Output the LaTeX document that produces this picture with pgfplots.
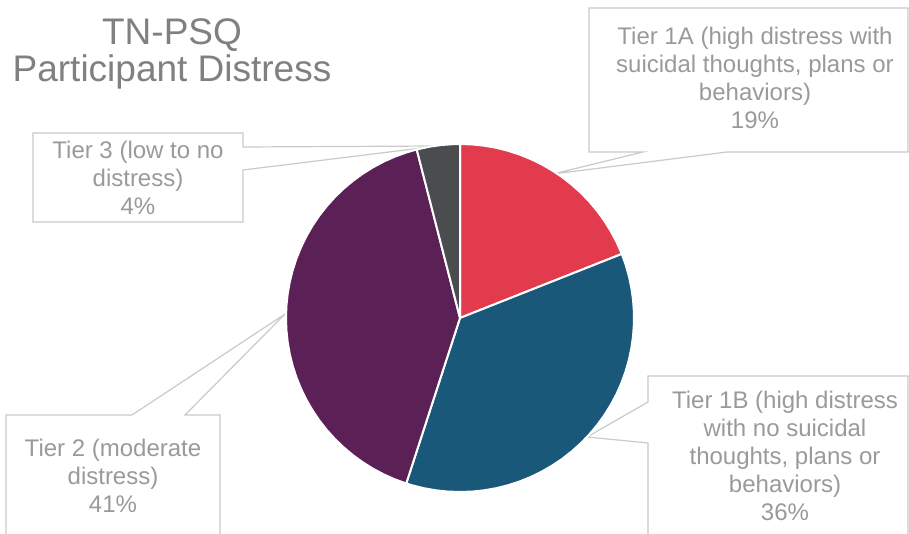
\documentclass[border=0pt]{standalone}
\usepackage{fontspec}
\setmainfont{Liberation Sans}
\usepackage{pgfplots}
\pgfplotsset{compat=1.18}
\usepgfplotslibrary{polar}
\definecolor{tred}{HTML}{E23B4E}
\definecolor{tblue}{HTML}{1A5879}
\definecolor{tpurple}{HTML}{5B2157}
\definecolor{tgray}{HTML}{4B4C50}
\definecolor{labgray}{HTML}{9A9A9A}
\definecolor{titlegray}{HTML}{808080}
\definecolor{boxgray}{HTML}{CACACA}
\tikzset{
  lab/.style={text=labgray, font=\fontsize{24bp}{28bp}\selectfont, inner sep=0pt, anchor=base},
  ttl/.style={text=titlegray, font=\fontsize{37bp}{37bp}\selectfont, inner sep=0pt, anchor=base},
  callout/.style={fill=white, draw=boxgray, line width=1.2bp, line join=miter}}
\begin{document}
\begin{tikzpicture}
\useasboundingbox (0,0) rectangle (909bp,534bp);
\clip (0,0) rectangle (909bp,534bp);
\begin{axis}[at={(0,0)}, anchor=south west, x=1bp, y=1bp,
  xmin=-460, xmax=449, ymin=-216, ymax=318, hide axis, clip=false]
% callouts
\draw[callout] (129,310) -- (448,310) -- (448,166) -- (267,166) -- (93,144) -- (183,166) -- (129,166) -- cycle;
\draw[callout] (-427,185) -- (-217,185) -- (-217,171) -- (-22,172) -- (-217,148) -- (-217,96) -- (-427,96) -- cycle;
\draw[callout] (-454,-97) -- (-328,-97) -- (-175,4) -- (-275,-97) -- (-240,-97) -- (-240,-225) -- (-454,-225) -- cycle;
\draw[callout] (188,-58) -- (448,-58) -- (448,-225) -- (188,-225) -- (188,-125) -- (127,-119) -- (188,-84) -- cycle;
% pie slices (angle, radius)
\addplot[data cs=polar, fill=tred, draw=white, line width=2bp, line join=round] coordinates {
(0,0) (90,174) (86,174) (82,174) (78,174) (74,174) (70,174) (66,174) (62,174) (58,174) (54,174) (50,174) (46,174) (42,174) (38,174) (34,174) (30,174) (26,174) (22,174) (21.6,174) (0,0)};
\addplot[data cs=polar, fill=tblue, draw=white, line width=2bp, line join=round] coordinates {
(0,0) (21.6,174) (18,174) (14,174) (10,174) (6,174) (2,174) (-2,174) (-6,174) (-10,174) (-14,174) (-18,174) (-22,174) (-26,174) (-30,174) (-34,174) (-38,174) (-42,174) (-46,174) (-50,174) (-54,174) (-58,174) (-62,174) (-66,174) (-70,174) (-74,174) (-78,174) (-82,174) (-86,174) (-90,174) (-94,174) (-98,174) (-102,174) (-106,174) (-108,174) (0,0)};
\addplot[data cs=polar, fill=tpurple, draw=white, line width=2bp, line join=round] coordinates {
(0,0) (252,174) (248,174) (244,174) (240,174) (236,174) (232,174) (228,174) (224,174) (220,174) (216,174) (212,174) (208,174) (204,174) (200,174) (196,174) (192,174) (188,174) (184,174) (180,174) (176,174) (172,174) (168,174) (164,174) (160,174) (156,174) (152,174) (148,174) (144,174) (140,174) (136,174) (132,174) (128,174) (124,174) (120,174) (116,174) (112,174) (108,174) (104.4,174) (0,0)};
\addplot[data cs=polar, fill=tgray, draw=white, line width=2bp, line join=round] coordinates {
(0,0) (104.4,174) (100,174) (96,174) (92,174) (90,174) (0,0)};
% title
\node[ttl] at (-288,273) {TN-PSQ};
\node[ttl] at (-288,236) {Participant Distress};
% labels
\node[lab] at (295,273) {Tier 1A (high distress with};
\node[lab] at (295,245) {suicidal thoughts, plans or};
\node[lab] at (295,217) {behaviors)};
\node[lab] at (295,189) {19\%};
\node[lab] at (-322,160) {Tier 3 (low to no};
\node[lab] at (-322,132) {distress)};
\node[lab] at (-322,104) {4\%};
\node[lab] at (-347,-138) {Tier 2 (moderate};
\node[lab] at (-347,-166) {distress)};
\node[lab] at (-347,-194) {41\%};
\node[lab] at (325,-90) {Tier 1B (high distress};
\node[lab] at (325,-118) {with no suicidal};
\node[lab] at (325,-146) {thoughts, plans or};
\node[lab] at (325,-174) {behaviors)};
\node[lab] at (325,-202) {36\%};
\end{axis}
\end{tikzpicture}
\end{document}
